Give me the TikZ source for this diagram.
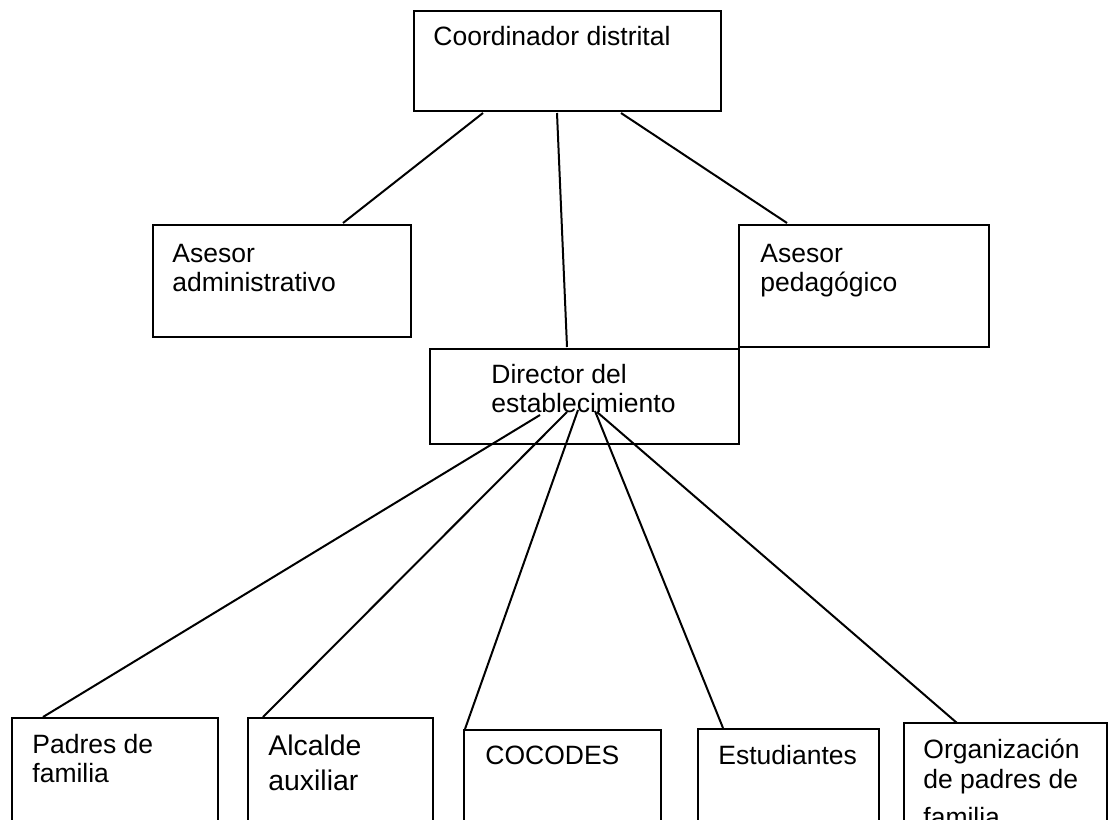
\documentclass[tikz,border=0pt]{standalone}
\usepackage{fontspec}
\setmainfont{Liberation Sans}
\begin{document}
\begin{tikzpicture}[x=0.5pt,y=-0.5pt,
  box/.style={draw,line width=1pt,inner sep=0pt,anchor=north west},
  lbl/.style={anchor=base west,inner sep=0pt,font=\fontsize{13.25}{14.5}\selectfont},
  biglbl/.style={anchor=base west,inner sep=0pt,font=\fontsize{14.2}{16}\selectfont},
  link/.style={line width=1pt}]
\useasboundingbox (0,0) rectangle (1108,819);
\clip (0,0) rectangle (1108,819);
% boxes
\node[box,minimum width=153.5pt,minimum height=50pt] (coord) at (413,10) {};
\node[box,minimum width=129pt,minimum height=56pt] (adm) at (152,224) {};
\node[box,minimum width=125pt,minimum height=61pt] (ped) at (738,224) {};
\node[box,minimum width=154.5pt,minimum height=47.5pt] (dir) at (429,348) {};
\node[box,minimum width=103pt,minimum height=60pt] (pad) at (11,717) {};
\node[box,minimum width=92.5pt,minimum height=60pt] (alc) at (247,717) {};
\node[box,minimum width=98.5pt,minimum height=55pt] (coc) at (463,729) {};
\node[box,minimum width=90.5pt,minimum height=55pt] (est) at (697,728) {};
\node[box,minimum width=101.5pt,minimum height=58pt] (org) at (903,722) {};
% texts
\node[lbl] (tcoord) at (433,45) {Coordinador distrital};
\node[lbl] (tadm1) at (172,262) {Asesor};
\node[lbl] (tadm2) at (172,291) {administrativo};
\node[lbl] (tped1) at (760,262) {Asesor};
\node[lbl] (tped2) at (760,291) {pedagógico};
\node[lbl] (tdir1) at (491,383) {Director del};
\node[lbl] (tdir2) at (491,412) {establecimiento};
\node[lbl] (tpad1) at (32,753) {Padres de};
\node[lbl] (tpad2) at (32,782) {familia};
\node[biglbl] (talc1) at (268,755) {Alcalde};
\node[biglbl] (talc2) at (268,790) {auxiliar};
\node[lbl] (tcoc) at (485,764) {COCODES};
\node[lbl] (test) at (718,764) {Estudiantes};
\node[lbl] (torg1) at (923,758) {Organización};
\node[lbl] (torg2) at (923,788) {de padres de};
\node[lbl] (torg3) at (923,826) {familia};
% connector end points
\coordinate (c1) at (483,113);
\coordinate (c2) at (557,113);
\coordinate (c3) at (621,113);
\coordinate (a1) at (343,223);
\coordinate (d0) at (567,347);
\coordinate (p1) at (787,223);
\coordinate (d1) at (540,415);
\coordinate (d2) at (567,412);
\coordinate (d3) at (578,410);
\coordinate (d4) at (595,411);
\coordinate (d5) at (597,412);
\coordinate (e1) at (43,717);
\coordinate (e2) at (263,717);
\coordinate (e3) at (465,729);
\coordinate (e4) at (723,728);
\coordinate (e5) at (957,723);
% connectors
\draw[link] (c1) -- (a1);
\draw[link] (c2) -- (d0);
\draw[link] (c3) -- (p1);
\draw[link] (d1) -- (e1);
\draw[link] (d2) -- (e2);
\draw[link] (d3) -- (e3);
\draw[link] (d4) -- (e4);
\draw[link] (d5) -- (e5);
\end{tikzpicture}
\end{document}
